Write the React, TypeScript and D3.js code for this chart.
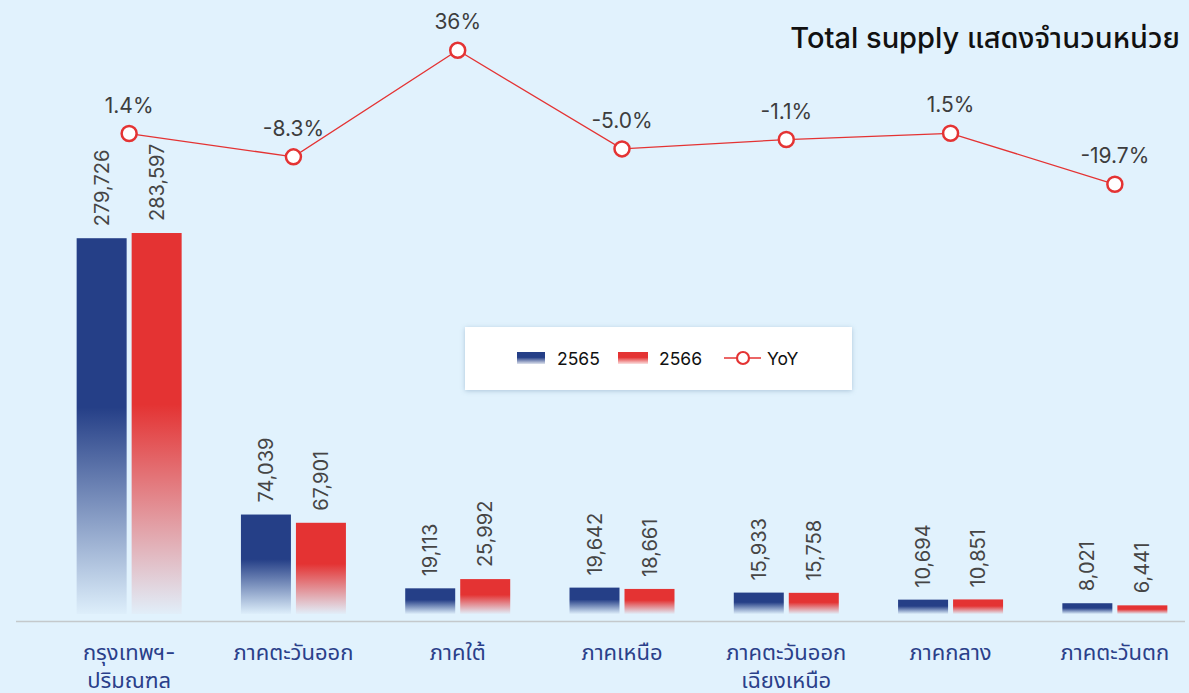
import React from "react";
import * as d3 from "d3";

const categories: string[][] = [
  ["กรุงเทพฯ-", "ปริมณฑล"],
  ["ภาคตะวันออก"],
  ["ภาคใต้"],
  ["ภาคเหนือ"],
  ["ภาคตะวันออก", "เฉียงเหนือ"],
  ["ภาคกลาง"],
  ["ภาคตะวันตก"],
];
const series2565: number[] = [279726, 74039, 19113, 19642, 15933, 10694, 8021];
const series2566: number[] = [283597, 67901, 25992, 18661, 15758, 10851, 6441];
const yoy: number[] = [1.4, -8.3, 36, -5.0, -1.1, 1.5, -19.7];
const yoyLabels: string[] = ["1.4%", "-8.3%", "36%", "-5.0%", "-1.1%", "1.5%", "-19.7%"];
const seriesNames: string[] = ["2565", "2566"];
const title = "Total supply แสดงจำนวนหน่วย";

const W = 1189;
const H = 693;
const BG = "#e1f2fd";
const BLUE = "#253f87";
const RED = "#e43333";
const FONT = "Inter, Roboto, 'Noto Sans Thai', 'Noto Sans', sans-serif";

export default function App() {
  const idx = categories.map((_, i) => String(i));
  const x = d3.scaleBand<string>().domain(idx).range([47, 1197]).padding(0);
  const xs = d3.scaleBand<string>().domain(seriesNames).range([0, 105]).paddingInner(1 / 11);
  const y = d3.scaleLinear().domain([0, 300000]).range([614, 614 - 300000 * 0.0013434]);
  const yl = d3.scaleLinear().domain([-20, 36]).range([185, 50.3]);
  const fmt = d3.format(",");
  const center = (i: number) => (x(String(i)) as number) + x.bandwidth() / 2;
  const groupStart = (i: number) => center(i) - 52.5;

  const line = d3
    .line<number>()
    .x((_, i) => center(i))
    .y((d) => yl(d));

  const series = [
    { name: seriesNames[0], values: series2565, color: BLUE, grad: "gBlue" },
    { name: seriesNames[1], values: series2566, color: RED, grad: "gRed" },
  ];

  return (
    <svg
      width={W}
      height={H}
      style={{ position: "fixed", left: 0, top: 0, display: "block", background: BG }}
      fontFamily={FONT}
    >
      <defs>
        {series.map((s) => (
          <linearGradient key={s.grad} id={s.grad} x1="0" y1="0" x2="0" y2="1">
            <stop offset="0" stopColor={s.color} stopOpacity={1} />
            <stop offset="0.45" stopColor={s.color} stopOpacity={1} />
            <stop offset="1" stopColor={s.color} stopOpacity={0.02} />
          </linearGradient>
        ))}
        <linearGradient id="lgBlue" x1="0" y1="0" x2="0" y2="1">
          <stop offset="0" stopColor={BLUE} stopOpacity={1} />
          <stop offset="0.45" stopColor={BLUE} stopOpacity={1} />
          <stop offset="1" stopColor={BLUE} stopOpacity={0.15} />
        </linearGradient>
        <linearGradient id="lgRed" x1="0" y1="0" x2="0" y2="1">
          <stop offset="0" stopColor={RED} stopOpacity={1} />
          <stop offset="0.45" stopColor={RED} stopOpacity={1} />
          <stop offset="1" stopColor={RED} stopOpacity={0.15} />
        </linearGradient>
        <filter id="shadow" x="-10%" y="-30%" width="120%" height="160%">
          <feDropShadow dx="0" dy="1" stdDeviation="2.5" floodColor="#6a8fb0" floodOpacity="0.45" />
        </filter>
      </defs>
      <rect x={0} y={0} width={W} height={H} fill={BG} />

      {/* title */}
      <text x={1180} y={48} textAnchor="end" fontSize={29} fontWeight={500} fill="#111">
        {title}
      </text>

      {/* axis line */}
      <line x1={16} x2={1185} y1={621.5} y2={621.5} stroke="#c4c9cc" strokeWidth={1.5} />

      {/* bars */}
      {series.map((s) => (
        <g key={s.name}>
          {s.values.map((v, i) => {
            const bx = groupStart(i) + (xs(s.name) as number);
            const top = y(v);
            return (
              <g key={i}>
                <rect x={bx} y={top} width={xs.bandwidth()} height={y(0) - top} fill={`url(#${s.grad})`} />
                <text
                  transform={`translate(${bx + xs.bandwidth() / 2 + 7},${top - 12}) rotate(-90)`}
                  fontSize={20}
                  fill="#454545"
                  textAnchor="start"
                >
                  {fmt(v)}
                </text>
              </g>
            );
          })}
        </g>
      ))}

      {/* YoY line */}
      <path d={line(yoy) || ""} fill="none" stroke="#e43333" strokeWidth={1.3} />
      {yoy.map((v, i) => (
        <g key={i}>
          <circle cx={center(i)} cy={yl(v)} r={7.5} fill="#fff" stroke="#e43333" strokeWidth={2.5} />
          <text x={center(i)} y={yl(v) - 21} textAnchor="middle" fontSize={21} fill="#3d3d3d">
            {yoyLabels[i]}
          </text>
        </g>
      ))}

      {/* x labels */}
      {categories.map((lines, i) => (
        <text key={i} x={center(i)} y={660} textAnchor="middle" fontSize={22} fill="#2a3f8a">
          {lines.map((l, j) => (
            <tspan key={j} x={center(i)} dy={j === 0 ? 0 : 28}>
              {l}
            </tspan>
          ))}
        </text>
      ))}

      {/* legend */}
      <g>
        <rect x={465} y={327} width={387} height={63} fill="#fff" filter="url(#shadow)" />
        <rect x={517} y={352} width={28} height={12} fill="url(#lgBlue)" />
        <text x={557} y={365} fontSize={17.5} fill="#111">
          {seriesNames[0]}
        </text>
        <rect x={618} y={352} width={30} height={12} fill="url(#lgRed)" />
        <text x={659} y={365} fontSize={17.5} fill="#111">
          {seriesNames[1]}
        </text>
        <line x1={724} x2={761} y1={358} y2={358} stroke="#e43333" strokeWidth={1.3} />
        <circle cx={743} cy={358} r={6} fill="#fff" stroke="#e43333" strokeWidth={2.2} />
        <text x={767} y={365} fontSize={17.5} fill="#111">
          YoY
        </text>
      </g>
    </svg>
  );
}
